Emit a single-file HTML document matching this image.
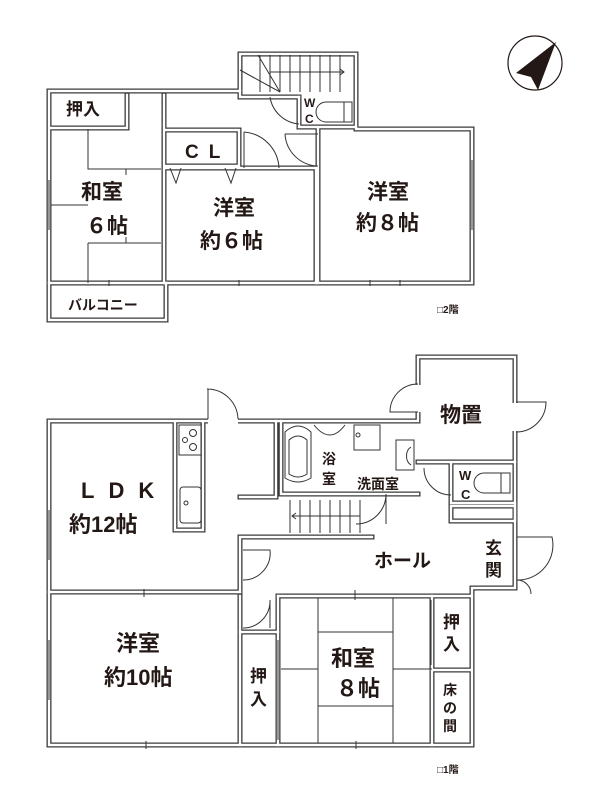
<!DOCTYPE html>
<html><head><meta charset="utf-8">
<style>
html,body{margin:0;padding:0;background:#fff;}
svg{display:block;}
text{font-family:"Liberation Sans","Noto Sans CJK JP",sans-serif;font-weight:bold;fill:#231815;}
.w{fill:none;stroke:#3a3a3a;stroke-width:5;stroke-linejoin:miter;stroke-linecap:square;}
.wi{fill:none;stroke:#fff;stroke-width:2.4;stroke-linejoin:miter;stroke-linecap:square;}
.t{fill:none;stroke:#333;stroke-width:1;}
</style></head><body>
<svg width="600" height="800" viewBox="0 0 600 800" xmlns="http://www.w3.org/2000/svg">
<defs>
<g id="walls">
<path d="M49,91 H240 V54 H356 V129 H472 V283 H49 Z"/>
<path d="M49,283 V320 H166 V283"/>
<path d="M51,128 H127 V95"/>
<path d="M164,95 V283"/>
<path d="M166,130 H239 V166 H166"/>
<path d="M166,168 H316 V283"/>
<path d="M240,91 V97 H299"/>
<path d="M299,97 V127 H356"/>
<path d="M318,129 V283"/>
<path d="M49,421 H418 V357 H515 V588 H472 V745 H49 Z"/>
<path d="M49,592 H240"/>
<path d="M240,592 V537 H372"/>
<path d="M240,596 V745"/>
<path d="M240,632 H278"/>
<path d="M240,497 H276 V421"/>
<path d="M278,596 H472"/>
<path d="M278,596 V745"/>
<path d="M281,421 V494 H418"/>
<path d="M418,462 H515"/>
<path d="M451,464 V503 H515"/>
<path d="M451,506 H515 V521 H451 Z"/>
<path d="M432,596 V745"/>
<path d="M432,670 H470"/>
<path d="M175,422 V530 H203 V422"/>
</g>
</defs>
<use href="#walls" class="w"/>
<use href="#walls" class="wi"/>
<!-- door gaps -->
<g fill="#fff">
<rect x="208" y="417" width="30" height="8"/>
<rect x="414" y="385" width="8" height="27"/>
<rect x="511" y="403" width="8" height="28"/>
</g>

<g class="t">
<path d="M260,55 V92"/>
<line x1="270" y1="72" x2="344" y2="72"/>
<path d="M340,69 L344,72 L340,75"/>
<path d="M270,55 V92 M280,55 V92 M290,55 V92 M300,55 V92 M310,55 V92 M320,55 V92 M330,55 V92 M340,55 V92"/>
<line x1="240" y1="70" x2="280" y2="92"/>
<line x1="258" y1="55" x2="280" y2="92"/>
<path d="M270,97 A32,32 0 0 0 299,124"/>
<path d="M244,132 A38,38 0 0 1 279,168"/>
<line x1="244" y1="132" x2="244" y2="168"/>
<path d="M285,134 A34,34 0 0 0 318,166"/>
<line x1="285" y1="134" x2="318" y2="134"/>
<path d="M170,168 L176,183 L181,168 M225,168 L231,183 L236,168"/>
<line x1="162" y1="100" x2="162" y2="160" stroke-dasharray="5,4"/>
<path d="M326,102 H352 V122 H326 A10,10 0 0 1 326,102 Z"/>
<line x1="344" y1="102" x2="344" y2="122"/>
<path d="M88,129 V169 H161 M88,243 H161 M88,243 V283 M126,169 V175 M126,243 V237 M51,205 H88"/>
<path d="M49,180 V230 M472,160 V230"/>
<path d="M109,280 V286 M239,280 V286 M400,280 V286 M370,280 V286"/>
</g>
<text x="66" y="115" font-size="17">押入</text>
<text x="185" y="158" font-size="19" letter-spacing="10">CL</text>
<text x="304" y="107" font-size="12">W</text>
<text x="305" y="123" font-size="12">C</text>
<text x="81" y="199" font-size="21">和室</text>
<text x="86" y="233" font-size="21">６帖</text>
<text x="213" y="215" font-size="21">洋室</text>
<text x="200" y="248" font-size="21">約６帖</text>
<text x="367" y="199" font-size="21">洋室</text>
<text x="356" y="230" font-size="21">約８帖</text>
<text x="68" y="310" font-size="14">バルコニー</text>
<text x="437" y="313" font-size="10" font-weight="normal">□2階</text>

<circle cx="535" cy="63" r="27" fill="none" stroke="#231815" stroke-width="1.2"/>
<path d="M556,42 L516,73 L531,77 L538,90 Z" fill="#231815"/>

<g class="t">
<path d="M207,389 H208 V419 M208,389 A31,31 0 0 1 238,419"/>
<rect x="179" y="425" width="22" height="30"/>
<circle cx="193" cy="433" r="3.5"/><circle cx="193" cy="447" r="3.5"/><circle cx="185" cy="440" r="2.5"/>
<rect x="180" y="487" width="21" height="36" rx="3"/>
<circle cx="186" cy="503" r="2"/>
<path d="M285,432 Q298,420 311,432 V478 Q298,486 285,478 Z"/>
<path d="M289,440 Q298,432 307,440 V474 Q298,480 289,474 Z"/>
<path d="M314,425 Q330,445 345,425"/>
<rect x="354" y="425" width="26" height="25"/>
<circle cx="358" cy="435" r="2"/>
<rect x="396" y="440" width="18" height="30"/>
<path d="M411,447 A8,10 0 0 0 411,465"/>
<path d="M290,500 V533 M300,500 V533 M310,500 V533 M320,500 V533 M330,500 V533 M340,500 V533 M350,500 V533 M360,500 V533"/>
<line x1="292" y1="516" x2="360" y2="516"/>
<path d="M296,513 L292,516 L296,519"/>
<path d="M386,494 A30,30 0 0 1 356,524 M386,494 V524"/>
<path d="M418,412 H390 A28,28 0 0 1 418,384"/>
<path d="M516,402 H546 A30,30 0 0 1 516,432"/>
<path d="M424,468 A27,27 0 0 0 451,495"/>
<path d="M517,580 A35,35 0 0 0 552,537 H517"/>
<path d="M517,580 A14,14 0 0 1 531,594"/>
<path d="M243,580 A27,27 0 0 0 270,550 H243"/>
<path d="M243,628 A27,27 0 0 0 270,600 V628"/>
<path d="M484,473 H510 V493 H484 A10,10 0 0 1 484,473 Z"/>
<line x1="501" y1="473" x2="501" y2="493"/>
<path d="M318,598 V743 M393,598 V743 M318,632 H393 M318,706 H393 M281,669 H318 M393,669 H432"/>
<path d="M278,640 V740 M431,600 V665"/>
<path d="M49,510 V560 M49,640 V700"/>
<path d="M144,589 V597 M146,741 V749 M355,590 V600 M356,741 V749"/>
</g>
<text x="81" y="498" font-size="22" letter-spacing="14">LDK</text>
<text x="69" y="532" font-size="22">約12帖</text>
<text x="440" y="422" font-size="21">物置</text>
<text x="322" y="464" font-size="14">浴</text>
<text x="322" y="484" font-size="14">室</text>
<text x="357" y="489" font-size="14">洗面室</text>
<text x="459" y="480" font-size="13">W</text>
<text x="461" y="499" font-size="13">C</text>
<text x="374" y="567" font-size="19">ホール</text>
<text x="485" y="554" font-size="17">玄</text>
<text x="485" y="576" font-size="17">関</text>
<text x="116" y="651" font-size="22">洋室</text>
<text x="104" y="685" font-size="22">約10帖</text>
<text x="250" y="682" font-size="17">押</text>
<text x="250" y="705" font-size="17">入</text>
<text x="331" y="666" font-size="22">和室</text>
<text x="336" y="696" font-size="22">８帖</text>
<text x="443" y="628" font-size="17">押</text>
<text x="443" y="650" font-size="17">入</text>
<text x="443" y="695" font-size="14">床</text>
<text x="443" y="713" font-size="14">の</text>
<text x="443" y="731" font-size="14">間</text>
<text x="437" y="773" font-size="10" font-weight="normal">□1階</text>
</svg>
</body></html>
